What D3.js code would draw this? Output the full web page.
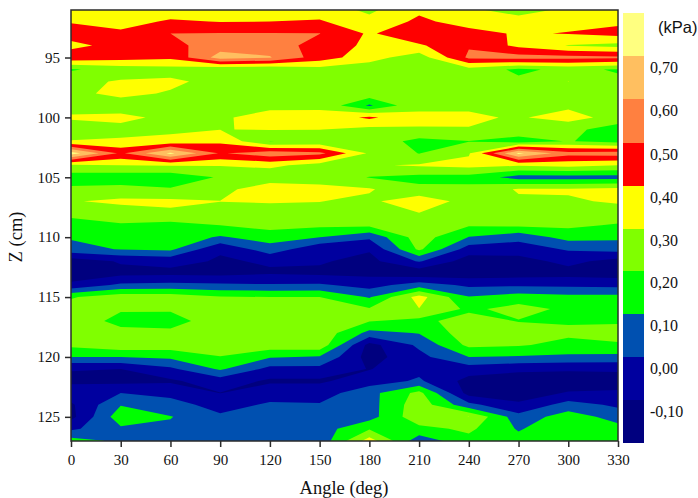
<!DOCTYPE html>
<html>
<head>
<meta charset="utf-8">
<script src="https://cdnjs.cloudflare.com/ajax/libs/d3/7.8.5/d3.min.js"></script>
<style>
    html, body { margin: 0; padding: 0; background: #ffffff; }
    svg { display: block; }
</style>
</head>
<body>
<svg id="chart" width="698" height="498"></svg>
<script>
const angles = [0, 30, 60, 90, 120, 150, 180, 210, 240, 270, 300, 330];
const z_values = d3.range(91, 128);
const angle_ticks = [0, 30, 60, 90, 120, 150, 180, 210, 240, 270, 300, 330];
const z_ticks = [95, 100, 105, 110, 115, 120, 125];

// pressure in kPa, one list per angle, from Z = 91 to Z = 127
const p_000 = [.35, .392, .45, .37, .47, .19, .27, .28, .285, .305, .28, .302, .75, .28, .15, .218, .293, .22, .17, .11, .068, -.155, -.17, -.073, .19, .25, .26, .27, .225, .1, -.095, -.12, -.046, -.116, -.13, -.02, .14];
const p_030 = [.35, .37, .415, .44, .44, .24, .31, .32, .26, .32, .277, .31, .48, .3, .14, .232, .32, .25, .19, .15, .105, -.09, -.13, .02, .26, .21, .17, .23, .27, .1, -.1, -.13, 0, .095, .16, .083, .08];
const p_060 = [.36, .41, .5, .47, .42, .26, .318, .292, .27, .28, .28, .33, .72, .305, .135, .21, .32, .283, .166, .15, .12, -.07, -.125, .03, .26, .215, .15, .23, .26, .12, -.02, -.115, -.03, .04, .105, .08, .06];
const p_090 = [.36, .397, .505, .553, .643, .21, .27, .28, .285, .289, .298, .38, .49, .305, .21, .25, .302, .26, .2, .09, -.09, -.11, -.13, .02, .21, .26, .27, .28, .27, .195, .115, -.05, -.102, -.04, .018, .08, .08];
const p_120 = [.36, .4, .505, .56, .606, .2, .27, .28, .28, .33, .305, .198, .56, .33, .21, .395, .31, .25, .24, .14, .06, -.09, -.11, .01, .2, .26, .27, .28, .26, .11, -.03, -.115, -.047, .014, .08, .09, .07];
const p_150 = [.35, .41, .502, .455, .45, .26, .28, .285, .285, .325, .302, .22, .53, .25, .27, .32, .302, .27, .22, .1, -.08, -.09, -.12, .015, .2, .26, .27, .27, .27, .09, -.03, -.115, -.047, .008, .07, .05, .03];
const p_180 = [.28, .33, .386, .38, .34, .24, .26, .27, .085, .42, .27, .27, .285, .29, .195, .31, .28, .26, .22, .02, -.09, -.13, -.125, -.04, .09, .21, .205, .07, -.135, -.14, -.105, -.05, .065, .06, .06, .19, .345];
const p_210 = [.38, .42, .48, .385, .243, .26, .27, .275, .29, .31, .297, .165, .197, .31, .17, .223, .365, .297, .26, .25, .22, .01, -.17, .05, .34, .297, .172, .105, .02, -.03, -.03, .015, .23, .26, .27, .17, .04];
const p_240 = [.315, .36, .434, .49, .52, .26, .27, .275, .285, .315, .296, .196, .29, .33, .165, .225, .26, .27, .21, .097, -.05, -.15, -.16, -.02, .105, .18, .245, .26, .225, .1, -.05, -.135, -.14, .03, .301, .22, .17];
const p_270 = [.26, .34, .389, .375, .54, .18, .22, .27, .28, .29, .275, .15, .72, .31, .06, .31, .285, .27, .22, .03, -.05, -.14, -.15, -.015, .15, .235, .195, .25, .21, .09, -.08, -.15, -.13, -.09, .04, .09, .135];
const p_300 = [.317, .37, .405, .295, .535, .225, .301, .27, .28, .34, .23, .206, .54, .33, .06, .31, .29, .28, .22, .14, .01, -.07, -.14, -.02, .13, .18, .19, .22, .17, .08, -.09, -.14, -.095, .045, .15, .18, .17];
const p_330 = [.35, .38, .434, .27, .52, .19, .22, .27, .28, .26, .15, .16, .55, .3, .06, .33, .31, .26, .19, .12, .04, -.14, -.15, -.03, .13, .18, .19, .23, .19, .07, -.09, -.13, -.09, -.02, .06, .135, .16];
const pressure = [p_000, p_030, p_060, p_090, p_120, p_150, p_180, p_210, p_240, p_270, p_300, p_330];

const levels = [-0.1, 0, 0.1, 0.2, 0.3, 0.4, 0.5, 0.6, 0.7];
const level_colors = ["#00007f", "#00009f", "#0050b0", "#00ff00", "#80ff00", "#ffff00", "#ff0000", "#ff8040", "#ffbf60", "#ffff80"];
const legend_labels = ["0,70", "0,60", "0,50", "0,40", "0,30", "0,20", "0,10", "0,00", "-0,10"];

const plot_left = 71;
const plot_right = 618;
const plot_top = 10;
const plot_bottom = 441;
const legend_x = 623;
const legend_width = 21;
const legend_edges = [13, 56, 99, 143, 186, 229, 271, 314, 357, 400, 443];
const serif = "'Liberation Serif', 'Times New Roman', serif";

const svg = d3.select("#chart");

const x = d3.scaleLinear().domain([0, 330]).range([plot_left, plot_right]);
const y = d3.scaleLinear().domain([91, 127]).range([9.6, 440.8]);

// d3.contours wants one flat list, row by row
const flat = [];
z_values.forEach((z, r) => angles.forEach((a, c) => flat.push(pressure[c][r])));

const contours = d3.contours()
    .size([angles.length, z_values.length])
    .thresholds(levels)(flat);

// sample i of the grid sits at contour coordinate i + 0.5
const grid_to_page = d3.geoTransform({
    point: function(c, r) {
        this.stream.point(x((c - 0.5) * 30), y(91 + r - 0.5));
    }
});
const path = d3.geoPath(grid_to_page);

svg.append("clipPath").attr("id", "plot_clip").append("rect")
    .attr("x", plot_left)
    .attr("y", plot_top)
    .attr("width", plot_right - plot_left)
    .attr("height", plot_bottom - plot_top);

const plot = svg.append("g").attr("clip-path", "url(#plot_clip)");

plot.append("rect")
    .attr("x", plot_left)
    .attr("y", plot_top)
    .attr("width", plot_right - plot_left)
    .attr("height", plot_bottom - plot_top)
    .attr("fill", level_colors[0]);

plot.selectAll("path")
    .data(contours)
    .join("path")
    .attr("d", path)
    .attr("fill", (d, i) => level_colors[i + 1]);

// frame
svg.append("rect")
    .attr("x", plot_left)
    .attr("y", plot_top)
    .attr("width", plot_right - plot_left)
    .attr("height", plot_bottom - plot_top)
    .attr("fill", "none")
    .attr("stroke", "#2b2b2b")
    .attr("stroke-width", 1.5);

const x_axis = svg.append("g")
    .attr("transform", `translate(0,${plot_bottom})`)
    .call(d3.axisBottom(x).tickValues(angle_ticks).tickSize(6).tickPadding(7));
const y_axis = svg.append("g")
    .attr("transform", `translate(${plot_left},0)`)
    .call(d3.axisLeft(y).tickValues(z_ticks).tickSize(6).tickPadding(5));

[x_axis, y_axis].forEach(a => {
    a.select(".domain").remove();
    a.selectAll(".tick line").attr("stroke", "#2b2b2b").attr("stroke-width", 1.5);
    a.selectAll(".tick text")
        .attr("font-family", serif)
        .attr("font-size", "15px")
        .attr("fill", "#111111");
});

svg.append("text")
    .attr("x", 344)
    .attr("y", 494)
    .attr("text-anchor", "middle")
    .attr("font-family", serif)
    .attr("font-size", "18.5px")
    .attr("fill", "#111111")
    .text("Angle (deg)");

svg.append("text")
    .attr("transform", "translate(22,237) rotate(-90)")
    .attr("text-anchor", "middle")
    .attr("font-family", serif)
    .attr("font-size", "18.5px")
    .attr("fill", "#111111")
    .text("Z (cm)");

// colour legend, top block is the highest level
const legend_colors = level_colors.slice().reverse();
svg.selectAll("rect.legend")
    .data(legend_colors)
    .join("rect")
    .attr("class", "legend")
    .attr("x", legend_x)
    .attr("y", (d, i) => legend_edges[i])
    .attr("width", legend_width)
    .attr("height", (d, i) => legend_edges[i + 1] - legend_edges[i])
    .attr("fill", d => d);

svg.selectAll("text.legend_label")
    .data(legend_labels)
    .join("text")
    .attr("class", "legend_label")
    .attr("x", 650)
    .attr("y", (d, i) => legend_edges[i + 1] + 17)
    .attr("font-family", serif)
    .attr("font-size", "16px")
    .attr("fill", "#111111")
    .text(d => d);

svg.append("text")
    .attr("x", 658)
    .attr("y", 33)
    .attr("font-family", "'Liberation Sans', Arial, sans-serif")
    .attr("font-size", "16.5px")
    .attr("fill", "#111111")
    .text("(kPa)");
</script>
</body>
</html>
